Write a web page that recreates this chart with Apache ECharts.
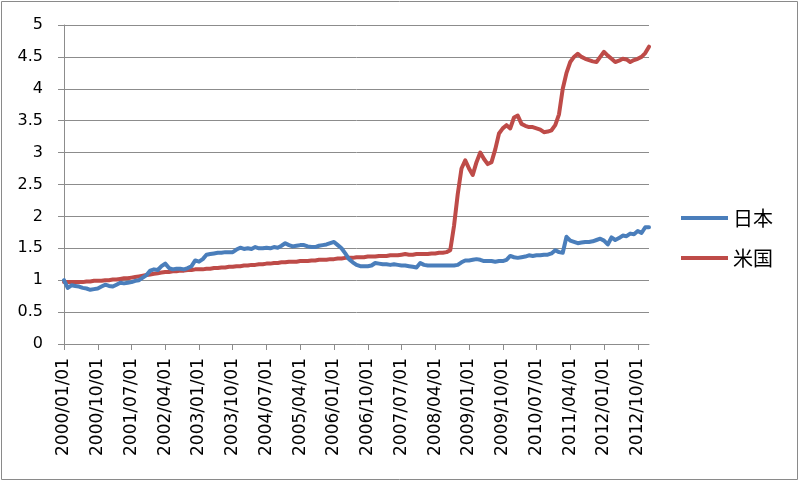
<!DOCTYPE html>
<html>
<head>
<meta charset="utf-8">
<script src="https://cdn.jsdelivr.net/npm/echarts@6/dist/echarts.min.js"></script>
<style>
html,body{margin:0;padding:0;background:#fff;}
#chart{width:800px;height:482px;}
</style>
</head>
<body>
<div id="chart"></div>
<script>
// Monthly series from 2000/01 to 2013/01
const startYear = 2000;
const seriesNames = ['日本', '米国'];
const japan = [
  1.00, 0.88, 0.92, 0.91, 0.90, 0.88, 0.87, 0.85, 0.86, 0.87, 0.90, 0.93, // 2000
  0.91, 0.90, 0.93, 0.96, 0.95, 0.96, 0.97, 0.99, 1.00, 1.04, 1.08, 1.15, // 2001
  1.17, 1.16, 1.22, 1.26, 1.19, 1.17, 1.18, 1.18, 1.17, 1.19, 1.22, 1.31, // 2002
  1.29, 1.33, 1.40, 1.41, 1.42, 1.43, 1.43, 1.44, 1.44, 1.44, 1.48, 1.51, // 2003
  1.49, 1.50, 1.49, 1.52, 1.50, 1.50, 1.51, 1.50, 1.52, 1.51, 1.54, 1.58, // 2004
  1.55, 1.53, 1.54, 1.55, 1.55, 1.53, 1.52, 1.52, 1.54, 1.55, 1.56, 1.58, // 2005
  1.60, 1.55, 1.50, 1.42, 1.33, 1.28, 1.24, 1.22, 1.22, 1.22, 1.23, 1.27, // 2006
  1.26, 1.25, 1.25, 1.24, 1.25, 1.24, 1.23, 1.23, 1.22, 1.21, 1.20, 1.27, // 2007
  1.24, 1.23, 1.23, 1.23, 1.23, 1.23, 1.23, 1.23, 1.23, 1.24, 1.28, 1.31, // 2008
  1.31, 1.32, 1.33, 1.32, 1.30, 1.30, 1.30, 1.29, 1.30, 1.30, 1.32, 1.38, // 2009
  1.36, 1.35, 1.36, 1.37, 1.39, 1.38, 1.39, 1.39, 1.40, 1.40, 1.42, 1.47, // 2010
  1.44, 1.43, 1.68, 1.62, 1.60, 1.58, 1.59, 1.60, 1.60, 1.61, 1.63, 1.65, // 2011
  1.62, 1.56, 1.67, 1.63, 1.66, 1.70, 1.69, 1.73, 1.72, 1.77, 1.74, 1.83, // 2012
  1.83                                                                    // 2013
];
const usa = [
  0.97, 0.97, 0.97, 0.97, 0.97, 0.97, 0.98, 0.98, 0.99, 0.99, 0.99, 1.00, // 2000
  1.00, 1.01, 1.01, 1.02, 1.03, 1.03, 1.04, 1.05, 1.06, 1.07, 1.08, 1.09, // 2001
  1.10, 1.11, 1.12, 1.13, 1.13, 1.14, 1.14, 1.15, 1.15, 1.16, 1.16, 1.17, // 2002
  1.17, 1.17, 1.18, 1.18, 1.19, 1.19, 1.20, 1.20, 1.21, 1.21, 1.22, 1.22, // 2003
  1.23, 1.23, 1.24, 1.24, 1.25, 1.25, 1.26, 1.26, 1.27, 1.27, 1.28, 1.28, // 2004
  1.29, 1.29, 1.29, 1.30, 1.30, 1.30, 1.31, 1.31, 1.32, 1.32, 1.32, 1.33, // 2005
  1.33, 1.34, 1.34, 1.35, 1.35, 1.35, 1.36, 1.36, 1.36, 1.37, 1.37, 1.37, // 2006
  1.38, 1.38, 1.38, 1.39, 1.39, 1.39, 1.40, 1.41, 1.40, 1.40, 1.41, 1.41, // 2007
  1.41, 1.41, 1.42, 1.42, 1.43, 1.43, 1.44, 1.47, 1.85, 2.35, 2.75, 2.88, // 2008
  2.75, 2.65, 2.85, 3.00, 2.90, 2.82, 2.85, 3.05, 3.30, 3.38, 3.43, 3.38, // 2009
  3.55, 3.58, 3.45, 3.42, 3.40, 3.40, 3.38, 3.36, 3.32, 3.33, 3.35, 3.43, // 2010
  3.60, 4.00, 4.25, 4.42, 4.50, 4.55, 4.50, 4.47, 4.45, 4.43, 4.42, 4.50, // 2011
  4.58, 4.52, 4.47, 4.42, 4.44, 4.47, 4.46, 4.42, 4.45, 4.47, 4.50, 4.56, // 2012
  4.66                                                                    // 2013
];
const yTicks = { min: 0, max: 5, interval: 0.5 };
const labelEvery = 9; // months between x-axis labels

const categories = [];
for (let i = 0; i < japan.length; i++) {
  const y = startYear + Math.floor(i / 12);
  const m = (i % 12) + 1;
  categories.push(y + '/' + (m < 10 ? '0' + m : m) + '/01');
}

const chart = echarts.init(document.getElementById('chart'), null, { renderer: 'canvas' });
const gridColor = '#8c8c8c';
chart.setOption({
  animation: false,
  backgroundColor: '#fff',
  graphic: [{
    type: 'rect',
    shape: { x: 1.5, y: 1.5, width: 796, height: 478 },
    style: { fill: 'none', stroke: '#8a8a8a', lineWidth: 1 },
    silent: true
  }],
  grid: { left: 64, right: 151, top: 25, bottom: 138, containLabel: false },
  legend: {
    orient: 'vertical',
    left: 676,
    top: 203,
    itemWidth: 47,
    itemHeight: 4,
    itemGap: 20,
    icon: 'rect',
    textStyle: { fontFamily: '"Noto Sans CJK JP", sans-serif', fontSize: 20, color: '#000' },
    data: seriesNames
  },
  xAxis: {
    type: 'category',
    data: categories,
    boundaryGap: false,
    axisLine: { show: true, lineStyle: { color: gridColor, width: 1 } },
    axisTick: { show: true, interval: labelEvery - 1, length: 6, lineStyle: { color: gridColor } },
    axisLabel: {
      interval: labelEvery - 1,
      rotate: 90,
      margin: 14,
      fontFamily: '"DejaVu Sans", sans-serif',
      fontSize: 17,
      color: '#000'
    },
    splitLine: { show: false }
  },
  yAxis: {
    type: 'value',
    min: yTicks.min,
    max: yTicks.max,
    interval: yTicks.interval,
    axisLine: { show: true, lineStyle: { color: gridColor, width: 1 } },
    axisTick: { show: true, length: 6, lineStyle: { color: gridColor } },
    axisLabel: {
      margin: 21,
      fontFamily: '"DejaVu Sans", sans-serif',
      fontSize: 16,
      color: '#000'
    },
    splitLine: { show: true, lineStyle: { color: gridColor, width: 1 } }
  },
  series: [
    {
      name: seriesNames[0],
      type: 'line',
      data: japan,
      showSymbol: false,
      symbol: 'none',
      itemStyle: { color: '#4A7EBB' },
      lineStyle: { color: '#4A7EBB', width: 4, join: 'round', cap: 'round' },
      z: 3
    },
    {
      name: seriesNames[1],
      type: 'line',
      data: usa,
      showSymbol: false,
      symbol: 'none',
      itemStyle: { color: '#BE4B48' },
      lineStyle: { color: '#BE4B48', width: 4, join: 'round', cap: 'round' },
      z: 2
    }
  ]
});
</script>
</body>
</html>
